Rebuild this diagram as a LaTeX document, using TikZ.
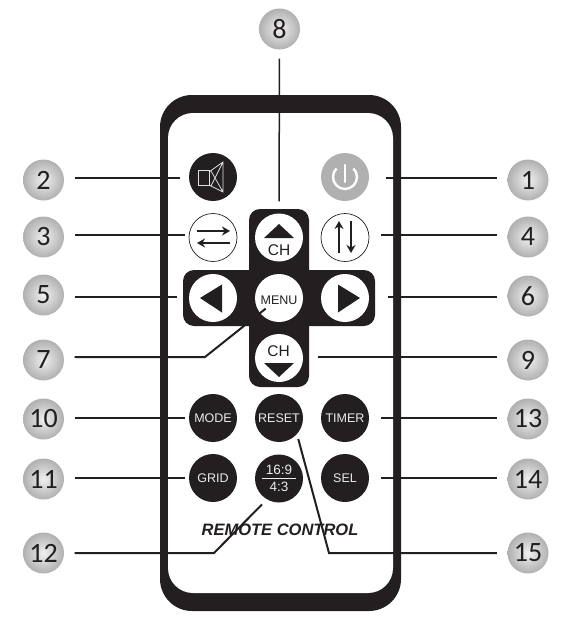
\documentclass[tikz,border=0pt]{standalone}
\usepackage{fontspec}
\setmainfont{Liberation Sans}
\newfontfamily\numfont{Carlito}
\usetikzlibrary{arrows.meta}
\definecolor{ink}{HTML}{231F20}
\tikzset{num/.style={circle,minimum size=41pt,inner sep=0pt,inner color=gray!12,outer color=gray!62,text=ink,font=\numfont\fontsize{28}{28}\selectfont},
btn/.style={circle,minimum size=48pt,inner sep=0pt,fill=ink,text=white!92!black,align=center,font=\fontsize{12.5}{14}\selectfont},
wbtn/.style={circle,minimum size=48pt,inner sep=0pt,fill=white,text=ink,align=center,font=\fontsize{12.5}{14}\selectfont},
ring/.style={circle,minimum size=48pt,inner sep=0pt,draw=ink,line width=0.7pt,fill=white},
lead/.style={draw=ink,line width=2pt,shorten <=10.5pt},
tri/.style={fill=ink},
sw/.style={draw=ink,line width=2pt,-{Stealth[length=8pt,width=9pt]}},
glyph/.style={draw=white!88!black,line width=0.8pt}}

\begin{document}
\begin{tikzpicture}[x=1pt,y=-1pt]
\useasboundingbox (0,0) rectangle (573,632);
% remote body
\fill[ink,rounded corners=32pt] (160,95) rectangle (401,611);
\fill[white,rounded corners=25pt] (168,113) rectangle (393,593);
\fill[ink,rounded corners=11pt] (249,209) rectangle (309,387);
\fill[ink,rounded corners=11pt] (183,270) rectangle (375,326);
% buttons
\node[btn] (mute) at (213,177) {};
\node[btn,fill=gray!62] (power) at (345,177) {};
\node[ring] (swap) at (213,237.5) {};
\node[ring] (updown) at (345,237.5) {};
\node[wbtn] (chup) at (279,237.5) {};
\node[wbtn] (left) at (213,298) {};
\node[wbtn] (menu) at (279,298) {};
\node[wbtn] (right) at (345,298) {};
\node[wbtn] (chdown) at (279,358) {};
\node[btn] (mode) at (213,418) {MODE};
\node[btn] (reset) at (279,418) {RESET};
\node[btn] (timer) at (345,418) {TIMER};
\node[btn] (grid) at (213,478) {GRID};
\node[btn,font=\fontsize{13.5}{17}\selectfont] (ratio) at (279,478.5) {16:9\\4:3};
\node[btn] (sel) at (345,478) {SEL};
\draw[white!92!black,line width=1.2pt,shorten <=7pt,shorten >=7pt] (ratio.west) -- (ratio.east);
% button faces
\draw[glyph] (198.5,170) rectangle (209,185);
\draw[glyph] (209,172) -- (223,162) -- (223,192) -- (209,185) (211,171) -- (223,192) (211,186) -- (223,162);
\draw[white,line width=2.4pt,line cap=round] (345,165) -- (345,182);
\draw[white,line width=2.4pt] (336.5,168.5) arc[start angle=225,end angle=-45,radius=12];
\draw[sw] (197,231) -- (230,231);
\draw[sw] (230,243) -- (197,243);
\draw[sw] (339,253) -- (339,221);
\draw[sw] (351,221) -- (351,253);
\fill[tri] (264,238) -- (294,238) -- (279,224) -- cycle;
\fill[tri] (264,363) -- (294,363) -- (279,377) -- cycle;
\fill[tri] (222,284.5) -- (222,312.5) -- (200,298) -- cycle;
\fill[tri] (338,284.5) -- (338,312.5) -- (360,298) -- cycle;
\node[text=ink,font=\fontsize{15.5}{15.5}\selectfont] (chuplabel) at (279,250.5) {CH};
\node[text=ink,font=\fontsize{15.5}{15.5}\selectfont] (chdownlabel) at (278.5,351.5) {CH};
\node[text=ink,font=\fontsize{12.5}{14}\selectfont] (menulabel) at (279,300.5) {MENU};
\node[text=ink,font=\bfseries\itshape\fontsize{16.5}{18}\selectfont] (brand) at (280,530) {REMOTE CONTROL};
% numbers
\node[num] (n8) at (279.5,29) {8};
\node[num] (n2) at (43.5,180) {2};
\node[num] (n3) at (43.5,237) {3};
\node[num] (n5) at (43.5,295) {5};
\node[num] (n7) at (43.5,360) {7};
\node[num] (n10) at (43.5,419) {10};
\node[num] (n11) at (43.5,479) {11};
\node[num] (n12) at (43.5,553) {12};
\node[num] (n1) at (528,180) {1};
\node[num] (n4) at (528,237) {4};
\node[num] (n6) at (528,296) {6};
\node[num] (n9) at (528,360) {9};
\node[num] (n13) at (528,419) {13};
\node[num] (n14) at (528,479) {14};
\node[num] (n15) at (528,553) {15};
% connectors
\coordinate (bend7) at (205,357);
\coordinate (bend12) at (214,553);
\coordinate (bend15) at (329,553);
\draw[lead,line width=1.5pt,shorten <=9pt,shorten >=12pt] (n8.south) -- (chup.north);
\draw[lead,shorten >=9pt] ([yshift=2pt]n2.east) -- ([yshift=-1pt]mute.west);
\draw[lead,shorten >=4pt] ([yshift=2pt]n3.east) -- ([yshift=2.5pt]swap.west);
\draw[lead,shorten >=12pt] ([yshift=-2pt]n5.east) -- ([yshift=1pt]left.west);
\draw[lead,shorten >=17pt] ([yshift=3pt]n7.east) -- (bend7) -- (menu.center);
\draw[lead,shorten >=4pt] ([yshift=1pt]n10.east) -- (mode.west);
\draw[lead,shorten >=4pt] ([yshift=1pt]n11.east) -- (grid.west);
\draw[lead,shorten >=7pt] (n12.east) -- (bend12) -- (ratio.240);
\draw[lead,shorten >=17pt] ([yshift=2pt]n1.west) -- ([yshift=-1pt]power.east);
\draw[lead,shorten >=12pt] ([yshift=2pt]n4.west) -- ([yshift=2.5pt]updown.east);
\draw[lead,shorten >=19pt] ([yshift=-1pt]n6.west) -- ([yshift=1pt]right.east);
\draw[lead,shorten >=15pt] ([yshift=3pt]n9.west) -- ([yshift=1pt]chdown.east);
\draw[lead,shorten >=12pt] ([yshift=1pt]n13.west) -- (timer.east);
\draw[lead,shorten >=12pt] ([yshift=1pt]n14.west) -- (sel.east);
\draw[lead,shorten >=5pt] (n15.west) -- (bend15) -- (reset.-42);
\end{tikzpicture}
\end{document}
